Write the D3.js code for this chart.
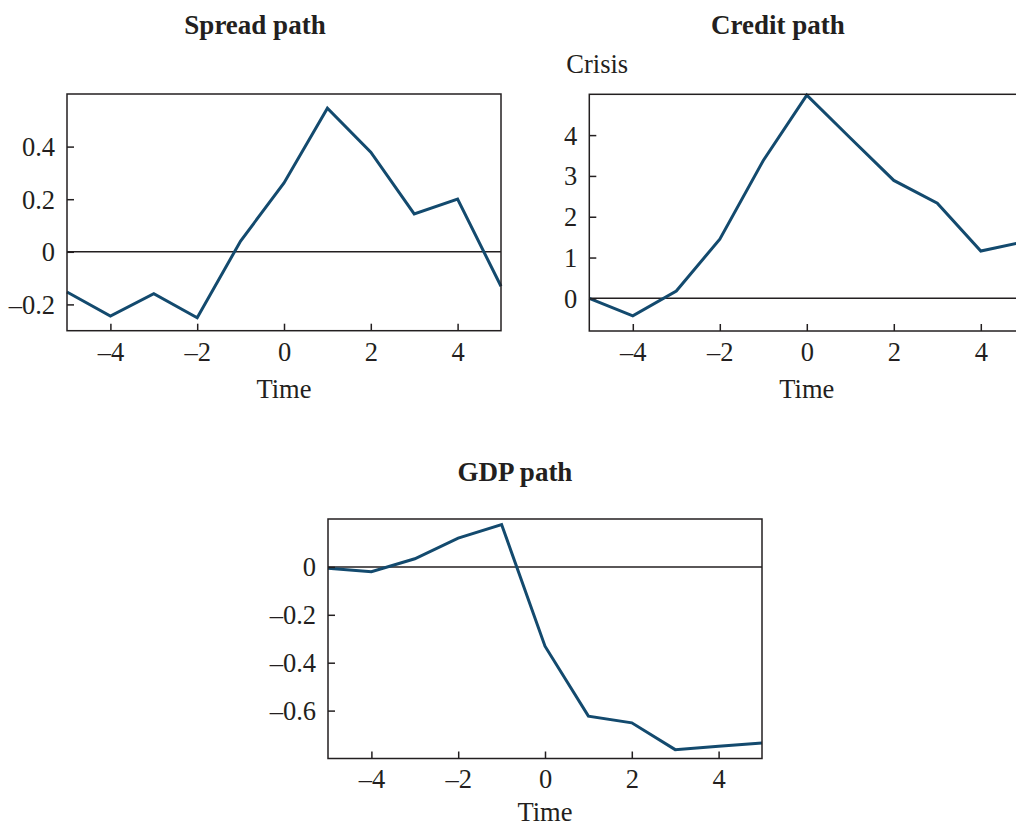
<!DOCTYPE html>
<html>
<head>
<meta charset="utf-8">
<script src="https://cdn.jsdelivr.net/npm/d3@7"></script>
<style>
  html, body { margin: 0; padding: 0; background: #fff; }
  svg { display: block; }
</style>
</head>
<body>
<svg id="chart" width="1016" height="827"></svg>
<script>
// ---- data ----
const time = [-5, -4, -3, -2, -1, 0, 1, 2, 3, 4, 5];
const spread = [-0.153, -0.244, -0.159, -0.251, 0.041, 0.262, 0.546, 0.379, 0.144, 0.200, -0.131];
const credit = [0.0, -0.43, 0.18, 1.45, 3.38, 4.98, 3.93, 2.89, 2.33, 1.16, 1.39];
const gdp = [-0.006, -0.02, 0.034, 0.12, 0.177, -0.331, -0.623, -0.651, -0.763, -0.749, -0.735];
const xTicks = [-4, -2, 0, 2, 4];
const spreadTicks = [-0.2, 0, 0.2, 0.4];
const creditTicks = [0, 1, 2, 3, 4];
const gdpTicks = [-0.6, -0.4, -0.2, 0];
const titles = ["Spread path", "Credit path", "GDP path"];
const xLabel = "Time";
const creditNote = "Crisis";

// ---- layout ----
const panels = [
  { title: titles[0], values: spread, ticks: spreadTicks, yDomain: [-0.3, 0.6],
    x0: 67, x1: 501, y0: 94, y1: 330.7, titleX: 255, titleY: 33.5, labelY: 397.5 },
  { title: titles[1], values: credit, ticks: creditTicks, yDomain: [-0.8, 5],
    x0: 589.3, x1: 1024.3, y0: 94.3, y1: 331, titleX: 778, titleY: 33.5, labelY: 397.5, note: creditNote },
  { title: titles[2], values: gdp, ticks: gdpTicks, yDomain: [-0.8, 0.2],
    x0: 328, x1: 762, y0: 519, y1: 758.5, titleX: 515, titleY: 481, labelY: 820.5 }
];

const FONT = "'Liberation Serif', 'Times New Roman', Times, serif";
const INK = "#231f20";
const LINE = "#134a6e";
const fmt = v => v === 0 ? "0" : d3.format(".1f")(v).replace("-", "\u2013").replace("\u2212", "\u2013");
const fmtInt = v => String(v).replace("-", "\u2013");

const svg = d3.select("#chart");

panels.forEach(p => {
  const x = d3.scaleLinear().domain([-5, 5]).range([p.x0, p.x1]);
  const y = d3.scaleLinear().domain(p.yDomain).range([p.y1, p.y0]);
  const g = svg.append("g");

  // title
  g.append("text")
    .attr("x", p.titleX).attr("y", p.titleY)
    .attr("text-anchor", "middle")
    .attr("font-family", FONT).attr("font-weight", "bold").attr("font-size", 27)
    .attr("fill", INK)
    .text(p.title);

  if (p.note) {
    g.append("text")
      .attr("x", p.x0 - 23).attr("y", 73)
      .attr("font-family", FONT).attr("font-size", 26.5)
      .attr("fill", INK)
      .text(p.note);
  }

  // zero line
  g.append("line")
    .attr("x1", x(-5)).attr("x2", x(5))
    .attr("y1", y(0)).attr("y2", y(0))
    .attr("stroke", INK).attr("stroke-width", 1.5);

  // data line
  const line = d3.line().x((d, i) => x(time[i])).y(d => y(d));
  g.append("path")
    .datum(p.values)
    .attr("d", line)
    .attr("fill", "none")
    .attr("stroke", LINE)
    .attr("stroke-width", 3)
    .attr("stroke-linejoin", "miter");

  // axes
  const xAxis = d3.axisBottom(x).tickValues(xTicks)
    .tickSizeInner(-7).tickSizeOuter(0).tickPadding(11).tickFormat(fmtInt);
  const ax = g.append("g").attr("transform", `translate(0,${p.y1})`).call(xAxis);

  const isInt = p.ticks.every(v => Number.isInteger(v));
  const yAxis = d3.axisLeft(y).tickValues(p.ticks)
    .tickSizeInner(-7).tickSizeOuter(0).tickPadding(12).tickFormat(isInt ? fmtInt : fmt);
  const ay = g.append("g").attr("transform", `translate(${p.x0},0)`).call(yAxis);

  [ax, ay].forEach(a => {
    a.select(".domain").remove();
    a.selectAll(".tick line").attr("stroke", INK).attr("stroke-width", 1.5);
    a.selectAll(".tick text")
      .attr("font-family", FONT).attr("font-size", 26.5).attr("fill", INK);
  });
  ay.selectAll(".tick text").attr("dy", "0.34em");

  // frame
  g.append("rect")
    .attr("x", p.x0).attr("y", p.y0)
    .attr("width", p.x1 - p.x0).attr("height", p.y1 - p.y0)
    .attr("fill", "none").attr("stroke", INK).attr("stroke-width", 1.5);

  // x label
  g.append("text")
    .attr("x", (p.x0 + p.x1) / 2).attr("y", p.labelY)
    .attr("text-anchor", "middle")
    .attr("font-family", FONT).attr("font-size", 26.5)
    .attr("fill", INK)
    .text(xLabel);
});
</script>
</body>
</html>
